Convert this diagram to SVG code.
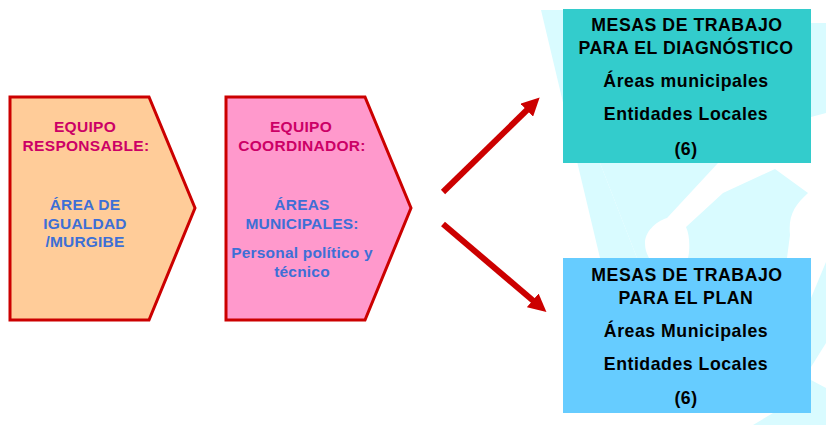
<svg xmlns="http://www.w3.org/2000/svg" width="826" height="425" viewBox="0 0 826 425">
<style>
text{font-family:"Liberation Sans",Arial,sans-serif;font-weight:bold;text-anchor:middle}
.wm{fill:#d9fbff}
.ch{stroke:#cc0000;stroke-width:3}
.t1{font-size:15.5px;fill:#cc0066;letter-spacing:.3px}
.t2{font-size:15.5px;fill:#3d6fd6;letter-spacing:.2px}
.t3{font-size:17.7px;fill:#000;letter-spacing:.53px}
.conn{stroke:#cc0000;stroke-width:6;fill:none;marker-end:url(#ah)}
</style>
<defs><marker id="ah" markerUnits="userSpaceOnUse" markerWidth="18" markerHeight="18" refX="1" refY="9" orient="auto"><path d="M0 0L18 9L0 18Z" fill="#cc0000"/></marker></defs>
<rect width="826" height="425" fill="#fff"/>
<g id="watermark">
<path class="wm" d="M541 10H563V163H600L637 258H600Z"/>
<path class="wm" d="M600 163H718L667 218C655 222 645 232 645 243C645 250 647 254 649 258H637Z"/>
<path class="wm" d="M688 258C690 250 690 235 686 227L723 193L775 169L808 193C795 205 788 215 790 235L787 258Z"/>
<path class="wm" d="M811 23H826V113L811 117Z"/>
<path class="wm" d="M811 298L826 262V343L811 367Z"/>
<path class="wm" d="M811 380L826 388V425H753L773 413H811Z"/>
</g>
<g id="connectors">
<path class="conn" d="M443 192L527.5 109.5"/>
<path class="conn" d="M443 224L533.5 301"/>
</g>
<g id="node-responsable">
<path class="ch" fill="#ffcc99" d="M10 97H149L195 208L149 320H10Z"/>
<text class="t1" x="85" y="132">EQUIPO</text>
<text class="t1" x="86" y="151">RESPONSABLE:</text>
<text class="t2" x="85" y="210">ÁREA DE</text>
<text class="t2" x="85" y="229">IGUALDAD</text>
<text class="t2" x="85" y="247">/MURGIBE</text>
</g>
<g id="node-coordinador">
<path class="ch" fill="#ff99cc" d="M226 97H365L411 208L365 320H226Z"/>
<text class="t1" x="301" y="132">EQUIPO</text>
<text class="t1" x="302" y="151">COORDINADOR:</text>
<text class="t2" x="302" y="210">ÁREAS</text>
<text class="t2" x="302" y="229">MUNICIPALES:</text>
<text class="t2" x="302" y="258">Personal político y</text>
<text class="t2" x="302" y="277">técnico</text>
</g>
<g id="node-diagnostico">
<rect x="563" y="9" width="248" height="154" fill="#33cccc"/>
<text class="t3" x="687" y="31">MESAS DE TRABAJO</text>
<text class="t3" x="686" y="54">PARA EL DIAGNÓSTICO</text>
<text class="t3" x="686" y="87">Áreas municipales</text>
<text class="t3" x="686" y="120">Entidades Locales</text>
<text class="t3" x="686" y="155">(6)</text>
</g>
<g id="node-plan">
<rect x="563" y="258" width="248" height="155" fill="#66ccff"/>
<text class="t3" x="687" y="281">MESAS DE TRABAJO</text>
<text class="t3" x="686" y="304">PARA EL PLAN</text>
<text class="t3" x="686" y="337">Áreas Municipales</text>
<text class="t3" x="686" y="370">Entidades Locales</text>
<text class="t3" x="686" y="404">(6)</text>
</g>
</svg>
